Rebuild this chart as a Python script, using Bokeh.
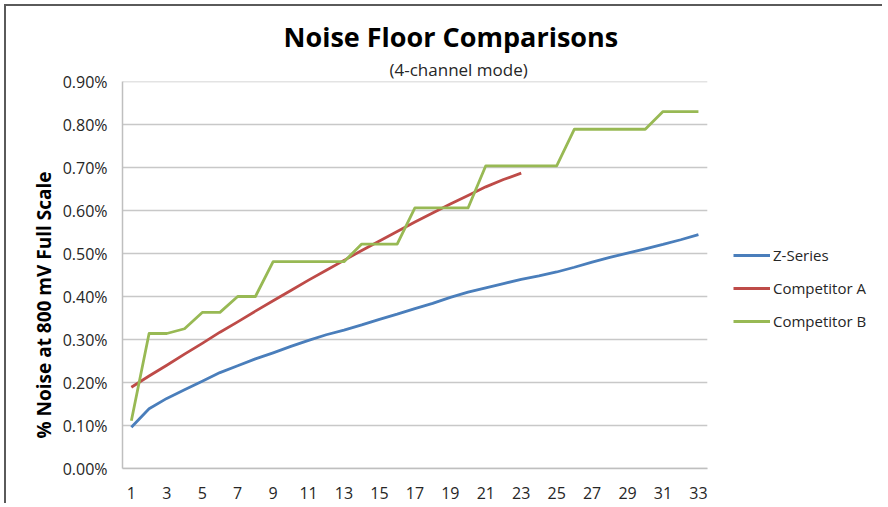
from bokeh.plotting import figure
from bokeh.models import (ColumnDataSource, Range1d, FixedTicker, PrintfTickFormatter,
                          Legend, LegendItem, Title)
from bokeh.embed import file_html
from bokeh.resources import INLINE

# ---- data (percent of 800 mV full scale) ----
channels = [1, 2, 3, 4, 5, 6, 7, 8, 9, 10, 11, 12, 13, 14, 15, 16, 17,
            18, 19, 20, 21, 22, 23, 24, 25, 26, 27, 28, 29, 30, 31, 32, 33]
z_series = [0.096, 0.139, 0.163, 0.183, 0.203, 0.223, 0.239, 0.255, 0.269, 0.284, 0.298,
            0.311, 0.322, 0.334, 0.347, 0.359, 0.372, 0.384, 0.398, 0.410, 0.420, 0.430,
            0.440, 0.448, 0.457, 0.468, 0.480, 0.491, 0.501, 0.511, 0.521, 0.532, 0.544]
competitor_a_channels = [1, 2, 3, 4, 5, 6, 7, 8, 9, 10, 11, 12, 13, 14, 15, 16, 17,
                         18, 19, 20, 21, 22, 23]
competitor_a = [0.189, 0.215, 0.240, 0.266, 0.291, 0.317, 0.341, 0.366, 0.390, 0.414, 0.438,
                0.461, 0.484, 0.507, 0.529, 0.551, 0.573, 0.594, 0.615, 0.635, 0.655, 0.672,
                0.687]
competitor_b = [0.111, 0.314, 0.314, 0.325, 0.363, 0.363, 0.400, 0.400, 0.481, 0.481, 0.481,
                0.481, 0.481, 0.522, 0.522, 0.522, 0.606, 0.606, 0.606, 0.606, 0.704, 0.704,
                0.704, 0.704, 0.704, 0.789, 0.789, 0.789, 0.789, 0.789, 0.830, 0.830, 0.830]
series_names = ["Z-Series", "Competitor A", "Competitor B"]
y_ticks = [0.0, 0.1, 0.2, 0.3, 0.4, 0.5, 0.6, 0.7, 0.8, 0.9]
x_ticks = [1, 3, 5, 7, 9, 11, 13, 15, 17, 19, 21, 23, 25, 27, 29, 31, 33]

# category axis spans 0.5 .. 33.5; the frame continues to the right to hold the legend
X_LO, X_HI, X_VIEW_HI = 0.5, 33.5, 43.5

colors = ["#4A7EBB", "#BE4B48", "#98B954"]
FONT = "Open Sans"

p = figure(width=878, height=499, output_backend="svg", toolbar_location=None,
           x_range=Range1d(X_LO, X_VIEW_HI), y_range=Range1d(0, 0.9),
           min_border_left=116, min_border_right=0, min_border_top=75,
           min_border_bottom=37)
p.background_fill_color = "white"
p.border_fill_color = "white"
p.outline_line_color = None
# chart-area frame line on the top and left (drawn as a shadow, outside the canvas box)
p.styles = {"margin-left": "6px", "margin-top": "6px",
            "box-shadow": "-2px -2px 0px 0px #5a5a5a"}

# horizontal gridlines limited to the category area
p.xgrid.grid_line_color = None
p.ygrid.grid_line_color = None
p.segment(x0=[X_LO] * len(y_ticks), x1=[X_HI] * len(y_ticks), y0=y_ticks, y1=y_ticks,
          line_color="#C8C8C8", line_width=1.5)

src_z = ColumnDataSource(dict(x=channels, y=z_series))
src_a = ColumnDataSource(dict(x=competitor_a_channels, y=competitor_a))
src_b = ColumnDataSource(dict(x=channels, y=competitor_b))

r_z = p.line("x", "y", source=src_z, line_color=colors[0], line_width=2.8, line_join="round")
r_a = p.line("x", "y", source=src_a, line_color=colors[1], line_width=2.8, line_join="round")
r_b = p.line("x", "y", source=src_b, line_color=colors[2], line_width=2.8, line_join="round")

# axes
p.xaxis.ticker = FixedTicker(ticks=x_ticks)
p.xaxis.bounds = (X_LO, X_HI)
p.yaxis.ticker = FixedTicker(ticks=y_ticks)
p.yaxis.formatter = PrintfTickFormatter(format="%.2f%%")
for ax in (p.xaxis, p.yaxis):
    ax.axis_line_color = "#BFBFBF"
    ax.axis_line_width = 1.5
    ax.major_tick_line_color = None
    ax.minor_tick_line_color = None
    ax.major_label_text_font = FONT
    ax.major_label_text_font_size = "16px"
    ax.major_label_text_color = "#262626"
p.yaxis.major_label_standoff = 9
p.xaxis.major_label_standoff = 12

# titles (offset measured from the frame's left edge)
sub = Title(text="(4-channel mode)", align="left", offset=267, text_font=FONT,
            text_font_size="17px", text_font_style="normal", text_color="#262626", standoff=2)
main = Title(text="Noise Floor Comparisons", align="left", offset=161, text_font=FONT,
             text_font_size="27px", text_font_style="bold", text_color="#000000", standoff=0)
p.add_layout(sub, "above")
p.add_layout(main, "above")

ylab = Title(text="% Noise at 800 mV Full Scale", align="left", offset=30, text_font=FONT,
             text_font_size="19px", text_font_style="bold", text_color="#000000", standoff=5)
p.add_layout(ylab, "left")

legend = Legend(items=[LegendItem(label=series_names[0], renderers=[r_z]),
                       LegendItem(label=series_names[1], renderers=[r_a]),
                       LegendItem(label=series_names[2], renderers=[r_b])],
                location=(611, 137), padding=0, margin=0, spacing=13,
                glyph_width=37, glyph_height=20, label_height=20, label_standoff=3,
                label_text_font=FONT, label_text_font_size="15px", label_text_color="#262626",
                border_line_color=None, background_fill_alpha=0)
p.add_layout(legend, "center")

open("out.html", "w").write(file_html(p, INLINE))
